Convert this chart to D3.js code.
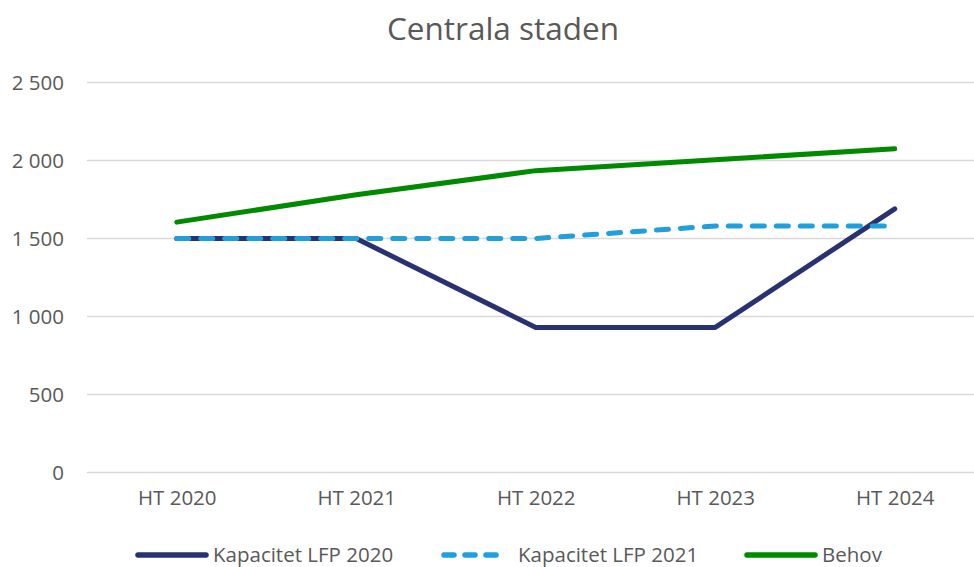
<!DOCTYPE html>
<html>
<head>
<meta charset="utf-8">
<script src="https://cdn.jsdelivr.net/npm/d3@7"></script>
<style>
  html, body { margin: 0; padding: 0; background: #fff; }
  svg { display: block; font-family: "Open Sans", sans-serif; }
</style>
</head>
<body>
<svg id="chart" width="974" height="567"></svg>
<script>
const categories = ["HT 2020", "HT 2021", "HT 2022", "HT 2023", "HT 2024"];
const kapacitet2020 = [1500, 1500, 930, 930, 1690];
const kapacitet2021 = [1500, 1500, 1500, 1580, 1580];
const behov = [1605, 1780, 1935, 2005, 2075];
const yTicks = [0, 500, 1000, 1500, 2000, 2500];
const seriesNames = ["Kapacitet LFP 2020", "Kapacitet LFP 2021", "Behov"];
const title = "Centrala staden";

const svg = d3.select("#chart");
const W = 974, H = 567;
const left = 87, bandW = 179.5;
const x = d3.scalePoint().domain(categories).range([left, left + bandW * categories.length]).padding(0.5);
const y = d3.scaleLinear().domain([0, 2500]).range([472.5, 82.5]);
const fmt = d3.formatLocale({decimal: ",", thousands: " ", grouping: [3], currency: ["", ""]}).format(",");

const textColor = "#595959";

// title
svg.append("text").attr("x", 503).attr("y", 40).attr("text-anchor", "middle")
  .attr("font-size", 31.5).attr("fill", textColor).text(title);

// gridlines
svg.append("g").selectAll("line").data(yTicks).join("line")
  .attr("x1", left).attr("x2", W + 10)
  .attr("y1", d => y(d)).attr("y2", d => y(d))
  .attr("stroke", "#d9d9d9").attr("stroke-width", 1.5);

// y axis labels
const yAxis = d3.axisLeft(y).tickValues(yTicks).tickFormat(fmt).tickSize(0).tickPadding(0);
const gy = svg.append("g").attr("transform", "translate(64,0)").call(yAxis);
gy.select(".domain").remove();
gy.selectAll("text").attr("font-size", 20.5).attr("fill", textColor).attr("font-family", "Open Sans, sans-serif");

// x axis labels
const xAxis = d3.axisBottom(x).tickSize(0).tickPadding(0);
const gx = svg.append("g").attr("transform", "translate(0,490)").call(xAxis);
gx.select(".domain").remove();
gx.selectAll("text").attr("font-size", 20.5).attr("fill", textColor).attr("font-family", "Open Sans, sans-serif");

const series = [
  {name: seriesNames[0], values: kapacitet2020, color: "#283272", dash: null},
  {name: seriesNames[1], values: kapacitet2021, color: "#1f9fdb", dash: "12 12"},
  {name: seriesNames[2], values: behov, color: "#008a00", dash: null}
];

const line = d3.line().x((d, i) => x(categories[i])).y(d => y(d));

series.forEach(s => {
  svg.append("path").datum(s.values)
    .attr("d", line)
    .attr("fill", "none")
    .attr("stroke", s.color)
    .attr("stroke-width", 5)
    .attr("stroke-linecap", "round")
    .attr("stroke-linejoin", "round")
    .attr("stroke-dasharray", s.dash);
});

// legend
const legendY = 555;
const legendItems = [
  {x1: 138, x2: 206, tx: 213},
  {x1: 444, x2: 504, tx: 518},
  {x1: 747, x2: 815, tx: 822}
];
series.forEach((s, i) => {
  const L = legendItems[i];
  svg.append("line").attr("x1", L.x1).attr("x2", L.x2).attr("y1", legendY).attr("y2", legendY)
    .attr("stroke", s.color).attr("stroke-width", 5.5).attr("stroke-linecap", "round")
    .attr("stroke-dasharray", s.dash ? "10 11" : null);
  svg.append("text").attr("x", L.tx).attr("y", legendY).attr("dy", "0.35em")
    .attr("font-size", 20.5).attr("fill", textColor).text(s.name);
});
</script>
</body>
</html>
